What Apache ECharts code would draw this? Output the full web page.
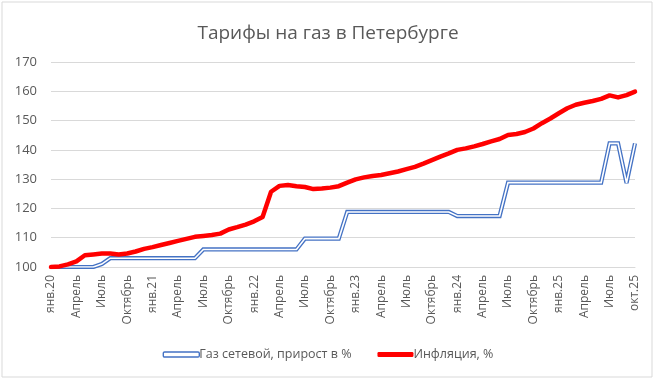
<!DOCTYPE html>
<html>
<head>
<meta charset="utf-8">
<script src="https://cdn.jsdelivr.net/npm/echarts@6/dist/echarts.min.js"></script>
<style>
html,body{margin:0;padding:0;background:#fff;}
#chart{width:656px;height:379px;}
</style>
</head>
<body>
<div id="chart"></div>
<script>
const months = [
 'янв.20','фев.20','мар.20','апр.20','май.20','июн.20','июл.20','авг.20','сен.20','окт.20','ноя.20','дек.20',
 'янв.21','фев.21','мар.21','апр.21','май.21','июн.21','июл.21','авг.21','сен.21','окт.21','ноя.21','дек.21',
 'янв.22','фев.22','мар.22','апр.22','май.22','июн.22','июл.22','авг.22','сен.22','окт.22','ноя.22','дек.22',
 'янв.23','фев.23','мар.23','апр.23','май.23','июн.23','июл.23','авг.23','сен.23','окт.23','ноя.23','дек.23',
 'янв.24','фев.24','мар.24','апр.24','май.24','июн.24','июл.24','авг.24','сен.24','окт.24','ноя.24','дек.24',
 'янв.25','фев.25','мар.25','апр.25','май.25','июн.25','июл.25','авг.25','сен.25','окт.25'
];
const tickLabels = [
 'янв.20','Апрель','Июль','Октябрь',
 'янв.21','Апрель','Июль','Октябрь',
 'янв.22','Апрель','Июль','Октябрь',
 'янв.23','Апрель','Июль','Октябрь',
 'янв.24','Апрель','Июль','Октябрь',
 'янв.25','Апрель','Июль','окт.25'
];
const yTicks = [100, 110, 120, 130, 140, 150, 160, 170];
const gas = [
 100, 100, 100, 100, 100, 100, 101, 103, 103, 103, 103, 103,
 103, 103, 103, 103, 103, 103, 106, 106, 106, 106, 106, 106,
 106, 106, 106, 106, 106, 106, 109.7, 109.7, 109.7, 109.7, 109.7, 118.8,
 118.8, 118.8, 118.8, 118.8, 118.8, 118.8, 118.8, 118.8, 118.8, 118.8, 118.8, 118.8,
 117.4, 117.4, 117.4, 117.4, 117.4, 117.4, 128.8, 128.8, 128.8, 128.8, 128.8, 128.8,
 128.8, 128.8, 128.8, 128.8, 128.8, 128.8, 142.2, 142.2, 128.7, 142.2
];
const inflation = [
 100, 100.2, 100.9, 101.9, 104.0, 104.3, 104.6, 104.6, 104.3, 104.6, 105.3, 106.2,
 106.8, 107.5, 108.2, 108.9, 109.6, 110.3, 110.6, 110.9, 111.4, 112.8, 113.6, 114.5,
 115.6, 117.1, 125.7, 127.7, 128.0, 127.6, 127.3, 126.6, 126.8, 127.1, 127.6, 128.8,
 129.9, 130.6, 131.1, 131.4, 132.0, 132.6, 133.4, 134.2, 135.3, 136.5, 137.7, 138.8,
 140.0, 140.5, 141.2, 142.0, 142.9, 143.7, 145.1, 145.4, 146.1, 147.3, 149.1, 150.7,
 152.5, 154.2, 155.4, 156.1, 156.7, 157.4, 158.6, 157.9, 158.7, 159.9
];
const gasName = 'Газ сетевой, прирост в %';
const inflName = 'Инфляция, %';
const FONT = '"Open Sans", "DejaVu Sans", sans-serif';

const chart = echarts.init(document.getElementById('chart'), null, {renderer: 'canvas'});
chart.setOption({
  backgroundColor: '#ffffff',
  animation: false,
  title: {
    text: 'Тарифы на газ в Петербурге',
    left: 'center',
    top: 19,
    textStyle: {fontFamily: FONT, fontSize: 19, fontWeight: 'normal', color: '#595959'}
  },
  graphic: [{
    type: 'rect',
    shape: {x: 2, y: 2, width: 650, height: 375},
    style: {fill: 'none', stroke: '#d9d9d9', lineWidth: 1},
    silent: true
  }],
  legend: {
    top: 343,
    left: 'center',
    itemWidth: 36,
    itemHeight: 5,
    itemGap: 26,
    textStyle: {fontFamily: FONT, fontSize: 12.5, color: '#595959', padding: [0, 0, 0, -5]},
    data: [
      {name: gasName, icon: 'roundRect', itemStyle: {color: '#ffffff', borderColor: '#4472C4', borderWidth: 1.4}},
      {name: inflName, icon: 'roundRect', itemStyle: {color: '#ff0000', borderWidth: 0}}
    ]
  },
  grid: {left: 51, right: 21, top: 62, bottom: 112},
  xAxis: {
    type: 'category',
    data: months,
    boundaryGap: false,
    axisTick: {show: false},
    axisLine: {lineStyle: {color: '#d9d9d9'}},
    axisLabel: {
      interval: 2,
      rotate: 90,
      margin: 8,
      fontFamily: FONT,
      fontSize: 12,
      color: '#595959',
      formatter: function (v, i) { return tickLabels[Math.round(i / 3)]; }
    }
  },
  yAxis: {
    type: 'value',
    min: yTicks[0],
    max: yTicks[yTicks.length - 1],
    interval: 10,
    axisLine: {show: false},
    axisTick: {show: false},
    splitLine: {lineStyle: {color: '#d9d9d9', width: 1}},
    axisLabel: {fontFamily: FONT, fontSize: 13, color: '#595959', margin: 14}
  },
  series: [
    {
      name: gasName, type: 'line', data: gas, showSymbol: false,
      lineStyle: {color: '#4472C4', width: 4.2, join: 'miter', miterLimit: 2},
      itemStyle: {color: '#4472C4'}, z: 2
    },
    {
      name: '_inner', type: 'line', data: gas, showSymbol: false,
      lineStyle: {color: '#ffffff', width: 1.6, join: 'miter', miterLimit: 2},
      itemStyle: {color: '#ffffff'}, z: 3
    },
    {
      name: inflName, type: 'line', data: inflation, showSymbol: false,
      lineStyle: {color: '#ff0000', width: 4.5, cap: 'round', join: 'round'},
      itemStyle: {color: '#ff0000'}, z: 4
    }
  ]
});
</script>
</body>
</html>
